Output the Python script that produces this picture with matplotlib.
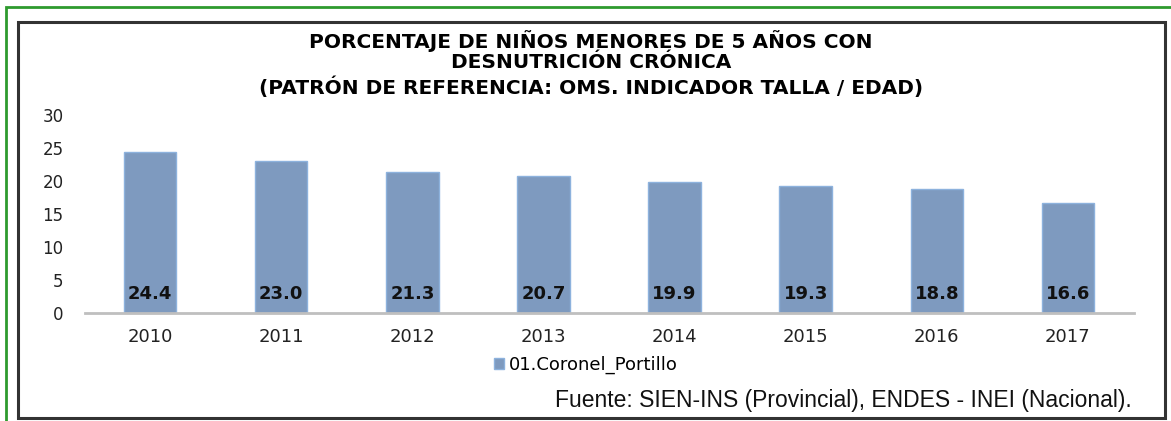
import matplotlib.pyplot as plt
import matplotlib.patches as patches
import numpy as np

plt.rcParams['font.family'] = ['DejaVu Sans']

years = ['2010', '2011', '2012', '2013', '2014', '2015', '2016', '2017']
values = [24.4, 23.0, 21.3, 20.7, 19.9, 19.3, 18.8, 16.6]
series_name = '01.Coronel_Portillo'
title_lines = ['PORCENTAJE DE NIÑOS MENORES DE 5 AÑOS CON',
               'DESNUTRICIÓN CRÓNICA',
               '(PATRÓN DE REFERENCIA: OMS. INDICADOR TALLA / EDAD)']
source = 'Fuente: SIEN-INS (Provincial), ENDES - INEI (Nacional).'

W, H = 1171, 421
fig = plt.figure(figsize=(W / 100, H / 100), dpi=100)

# frames: green outer, black inner
fig.patches.append(patches.Rectangle((6 / W, -0.05), 1.2, (H - 7) / H + 0.05,
                                     transform=fig.transFigure, fill=False,
                                     edgecolor='#2E9A2E', lw=2))
fig.patches.append(patches.Rectangle((18 / W, 3 / H), (1165 - 18) / W, (418 - 22) / H,
                                     transform=fig.transFigure, fill=False,
                                     edgecolor='#333333', lw=2.2))

ax = fig.add_axes([84.5 / W, (H - 313) / H, (1133.5 - 84.5) / W, (313 - 115) / H])
x = np.arange(len(years))
bars = ax.bar(x, values, width=0.4, color='#7E9ABF', edgecolor='#8DB2DD',
              lw=1, label=series_name, zorder=2)

for xi, v in zip(x, values):
    ax.text(xi, 1.5, f'{v:.1f}', ha='center', va='bottom', fontsize=13,
            fontweight='bold', color='#111111', zorder=3)

ax.set_xlim(-0.5, 7.5)
ax.set_ylim(0, 30)
ax.set_xticks(x)
ax.set_xticklabels(years)
ax.set_yticks(range(0, 31, 5))
ax.tick_params(axis='both', length=0, labelsize=12, colors='#222222')
ax.tick_params(axis='x', labelsize=13, pad=11)
ax.tick_params(axis='y', pad=15)
for s in ['top', 'right', 'left']:
    ax.spines[s].set_visible(False)
ax.spines['bottom'].set_color('#BFBFBF')
ax.spines['bottom'].set_linewidth(2)

fig.legend(handles=[bars], labels=[series_name], loc='center',
           bbox_to_anchor=(586 / W, (H - 365) / H), frameon=False,
           fontsize=13, handlelength=0.55, handleheight=0.55, handletextpad=0.3)

# title lines placed one by one (first two sit tight, like the original)
for line, ypx in zip(title_lines, [41, 63, 87]):
    fig.text(591 / W, (H - ypx) / H, line, ha='center', va='center',
             fontsize=14.5, fontweight='bold')

fig.text(1132 / W, (H - 400) / H, source, ha='right', va='center',
         fontsize=16.5, family='Liberation Sans', color='#111111')

fig.savefig('out.png', dpi=100)
